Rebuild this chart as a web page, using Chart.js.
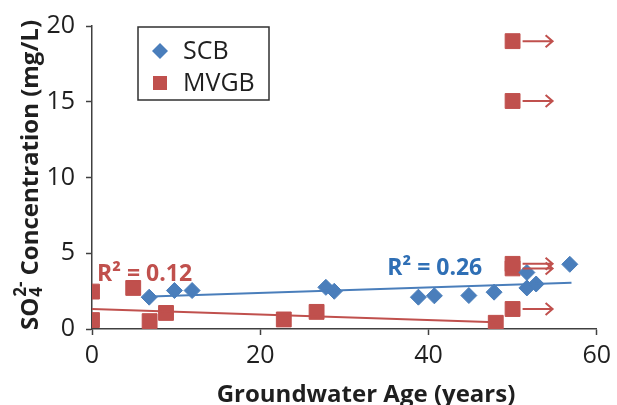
<!DOCTYPE html>
<html>
<head>
<meta charset="utf-8">
<script src="https://cdn.jsdelivr.net/npm/chart.js@4.4.1/dist/chart.umd.min.js"></script>
<style>
  html, body { margin: 0; padding: 0; background: #fff; }
</style>
</head>
<body>
<canvas id="so4Chart" width="617" height="405"></canvas>
<script>
// SCB wells: groundwater age (years) and sulfate (mg/L)
const scbAge = [6.8, 9.8, 11.9, 27.8, 28.8, 38.8, 40.7, 44.8, 47.8, 51.7, 51.7, 52.8, 56.8];
const scbSO4 = [2.1, 2.54, 2.54, 2.75, 2.49, 2.1, 2.19, 2.21, 2.43, 3.73, 2.71, 2.97, 4.27];

// MVGB wells; ages flagged in mvgbOlderThan are only a lower bound
const mvgbAge = [0, 0, 4.9, 6.85, 8.8, 22.8, 26.7, 48, 50, 50, 50, 50, 50];
const mvgbSO4 = [2.47, 0.59, 2.71, 0.52, 1.06, 0.63, 1.13, 0.41, 1.32, 4.0, 4.3, 15.05, 19.0];
const mvgbOlderThan = [false, false, false, false, false, false, false, false, true, true, true, true, true];

// linear trend lines (end points)
const scbFitAge = [7, 57];
const scbFitSO4 = [2.15, 3.05];
const mvgbFitAge = [0, 48];
const mvgbFitSO4 = [1.32, 0.45];

const seriesNames = ['SCB', 'MVGB'];
const r2Text = ['R\u00B2 = 0.26', 'R\u00B2 = 0.12'];

const xTicks = [0, 20, 40, 60];
const yTicks = [0, 5, 10, 15, 20];

const blue = '#4A7EBB';
const red = '#C0504D';
const axisColor = '#404040';
const textColor = '#1f1f1f';
const fontFamily = '"Open Sans", "DejaVu Sans", sans-serif';

const toPoints = (xs, ys) => xs.map((v, i) => ({ x: v, y: ys[i] }));

const decorations = {
  id: 'decorations',
  afterDatasetsDraw(chart) {
    const { ctx, chartArea: area, scales: { x, y } } = chart;
    ctx.save();

    // arrows for the ages that are only a minimum
    ctx.strokeStyle = red;
    ctx.lineWidth = 2;
    mvgbAge.forEach((age, i) => {
      if (!mvgbOlderThan[i]) return;
      const px = x.getPixelForValue(age);
      const py = y.getPixelForValue(mvgbSO4[i]);
      const x0 = px + 10, x1 = px + 40;
      ctx.beginPath();
      ctx.moveTo(x0, py);
      ctx.lineTo(x1, py);
      ctx.moveTo(x1 - 7, py - 6);
      ctx.lineTo(x1, py);
      ctx.lineTo(x1 - 7, py + 6);
      ctx.stroke();
    });

    // R² labels
    ctx.font = 'bold 23px ' + fontFamily;
    ctx.textAlign = 'left';
    ctx.textBaseline = 'alphabetic';
    ctx.fillStyle = '#2F6FB5';
    ctx.fillText(r2Text[0], x.getPixelForValue(35.1), y.getPixelForValue(3.58));
    ctx.fillStyle = red;
    ctx.fillText(r2Text[1], x.getPixelForValue(0.6), y.getPixelForValue(3.2));

    // legend box
    const lx = area.left + 46, ly = area.top + 1;
    ctx.strokeStyle = '#303030';
    ctx.lineWidth = 1.5;
    ctx.strokeRect(lx, ly, 131, 73);
    ctx.font = '25px ' + fontFamily;
    ctx.textBaseline = 'middle';
    ctx.fillStyle = textColor;
    seriesNames.forEach((name, i) => {
      const cy = ly + 24 + i * 32;
      const ds = chart.data.datasets.find(d => d.label === name);
      ctx.fillStyle = ds.backgroundColor;
      ctx.beginPath();
      if (ds.pointStyle === 'rectRot') {
        ctx.moveTo(lx + 22 - 8, cy);
        ctx.lineTo(lx + 22, cy - 8);
        ctx.lineTo(lx + 22 + 8, cy);
        ctx.lineTo(lx + 22, cy + 8);
        ctx.closePath();
      } else {
        ctx.rect(lx + 22 - 7, cy - 7, 14, 14);
      }
      ctx.fill();
      ctx.fillStyle = textColor;
      ctx.fillText(name, lx + 45, cy + 1);
    });

    // x axis title
    ctx.font = 'bold 24px ' + fontFamily;
    ctx.textAlign = 'center';
    ctx.textBaseline = 'alphabetic';
    ctx.fillText('Groundwater Age (years)', area.left + 274, area.bottom + 73);

    // y axis title with SO4 2- written as stacked sub/superscript
    ctx.translate(38, area.bottom + 1);
    ctx.rotate(-Math.PI / 2);
    ctx.textAlign = 'left';
    ctx.font = 'bold 24px ' + fontFamily;
    ctx.fillText('SO', 0, 0);
    let pos = ctx.measureText('SO').width + 1;
    ctx.font = 'bold 17px ' + fontFamily;
    ctx.fillText('4', pos, 4);
    ctx.fillText('2-', pos, -12);
    pos += ctx.measureText('2-').width + 6;
    ctx.font = 'bold 24px ' + fontFamily;
    ctx.fillText('Concentration (mg/L)', pos, 0);

    ctx.restore();
  }
};

new Chart(document.getElementById('so4Chart'), {
  type: 'scatter',
  data: {
    datasets: [
      {
        label: 'SCB fit',
        type: 'line',
        data: toPoints(scbFitAge, scbFitSO4),
        borderColor: blue,
        borderWidth: 2,
        pointRadius: 0,
        fill: false,
        order: 0
      },
      {
        label: 'MVGB fit',
        type: 'line',
        data: toPoints(mvgbFitAge, mvgbFitSO4),
        borderColor: red,
        borderWidth: 2,
        pointRadius: 0,
        fill: false,
        order: 0
      },
      {
        label: 'SCB',
        data: toPoints(scbAge, scbSO4),
        pointStyle: 'rectRot',
        pointRadius: 8,
        borderWidth: 1,
        backgroundColor: blue,
        borderColor: blue,
        order: 1
      },
      {
        label: 'MVGB',
        data: toPoints(mvgbAge, mvgbSO4),
        pointStyle: 'rect',
        pointRadius: 10.5,
        borderWidth: 1,
        backgroundColor: red,
        borderColor: red,
        order: 2
      }
    ]
  },
  options: {
    responsive: false,
    animation: false,
    layout: { padding: { top: 21.5, right: 17, bottom: 0, left: 0 } },
    plugins: {
      legend: { display: false },
      tooltip: { enabled: false }
    },
    scales: {
      x: {
        type: 'linear',
        min: 0,
        max: 60,
        afterBuildTicks: s => { s.ticks = xTicks.map(v => ({ value: v })); },
        grid: { drawOnChartArea: false, drawTicks: true, tickLength: 6, tickWidth: 1.5, tickColor: axisColor },
        border: { color: axisColor, width: 1.5 },
        ticks: { font: { family: fontFamily, size: 25 }, color: textColor, padding: 6, maxRotation: 0 },
        afterFit: s => { s.height = 76; }
      },
      y: {
        type: 'linear',
        min: 0,
        max: 20,
        afterBuildTicks: s => { s.ticks = yTicks.map(v => ({ value: v })); },
        grid: { drawOnChartArea: false, drawTicks: true, tickLength: 6, tickWidth: 1.5, tickColor: axisColor },
        border: { color: axisColor, width: 1.5 },
        ticks: { font: { family: fontFamily, size: 25 }, color: textColor, padding: 11 },
        afterFit: s => { s.width = 92; }
      }
    }
  },
  plugins: [decorations]
});
</script>
</body>
</html>
